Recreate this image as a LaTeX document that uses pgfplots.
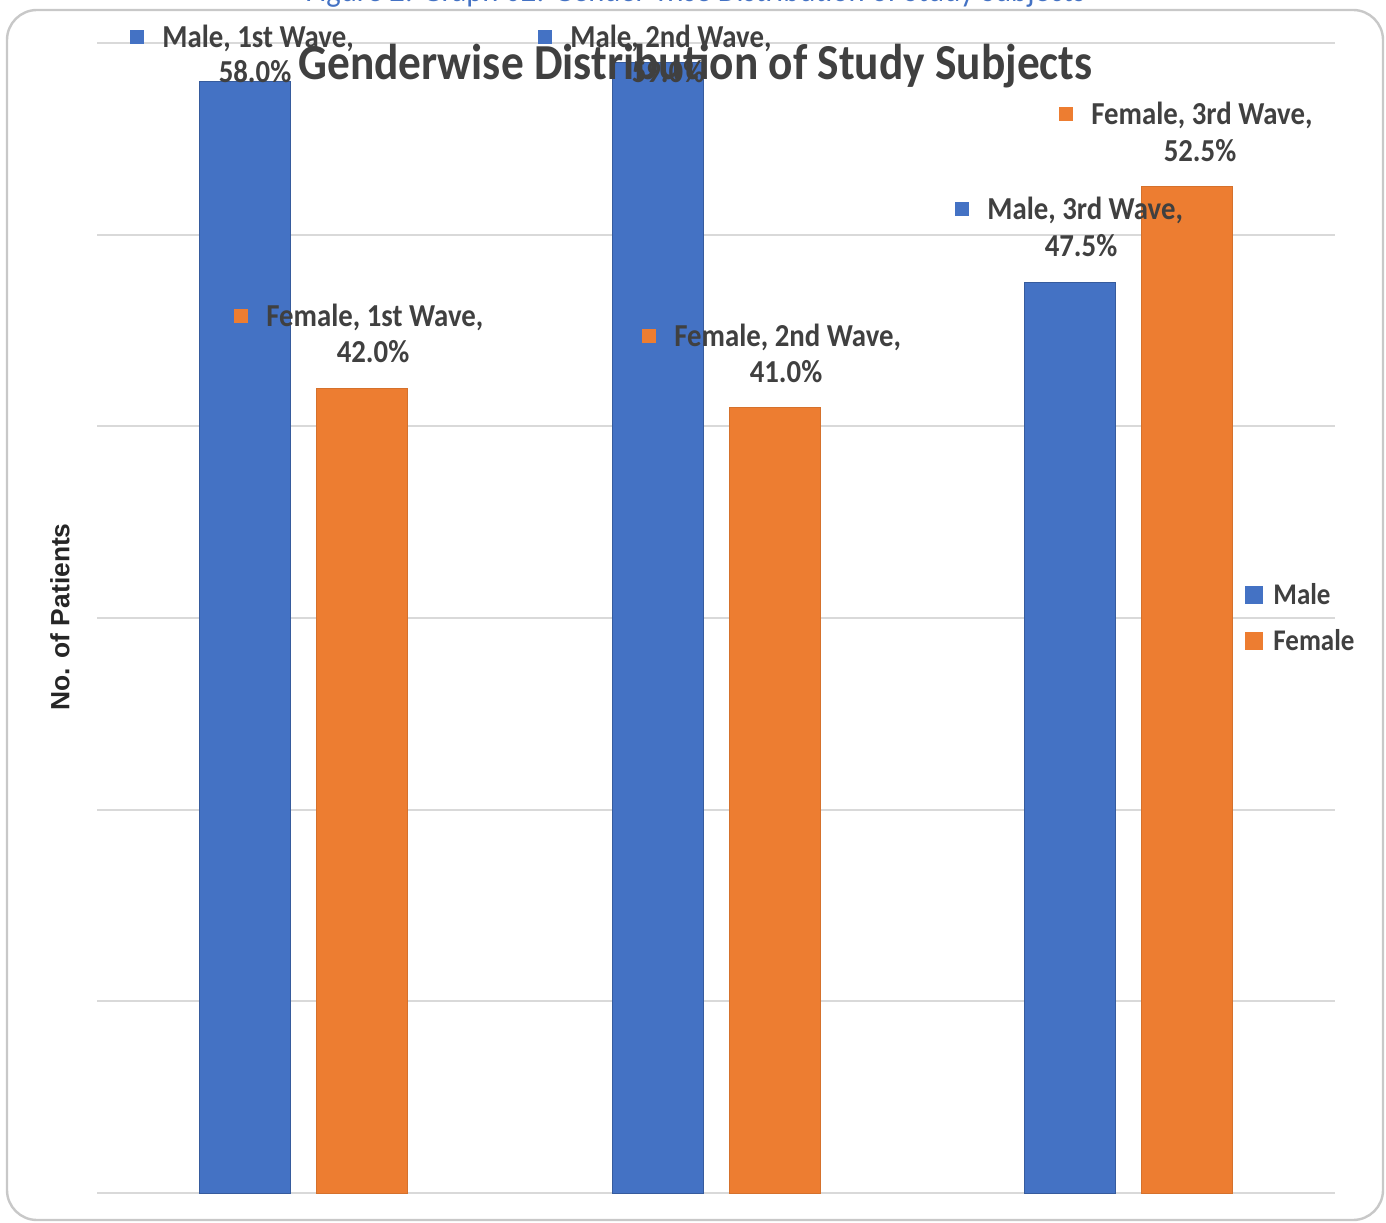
\documentclass[border=0pt]{standalone}
\usepackage{pgfplots}
\pgfplotsset{compat=1.18}
\usepackage{fontspec}
\setmainfont{Carlito}[FakeStretch=0.9]
\newfontfamily\arialf{Liberation Sans}
\definecolor{mblue}{RGB}{68,114,196}
\definecolor{morange}{RGB}{237,125,49}
\definecolor{lblgray}{RGB}{64,64,64}
\definecolor{gridgray}{RGB}{217,217,217}
\definecolor{framegray}{RGB}{200,200,200}
\definecolor{capblue}{RGB}{68,114,196}
\newcommand{\sq}[1]{\textcolor{#1}{\rule[2pt]{7pt}{7pt}}\hspace{9pt}}
\begin{document}
\begin{tikzpicture}
\useasboundingbox (0,0) rectangle (693pt,611pt);
\clip (0,0) rectangle (693pt,611pt);
\fill[white] (0,0) rectangle (693pt,611pt);
% caption cut at top
\node[anchor=base west, inner sep=0, text=capblue, font=\fontsize{17}{19}\selectfont] at (152.5pt,610pt) {Figure 2: Graph 02: Gender-wise Distribution of Study Subjects};
% frame
\draw[framegray, line width=1.2pt, rounded corners=15pt] (3.5pt,1pt) rectangle (691.5pt,606pt);
\begin{axis}[
  at={(48.5pt,14.5pt)}, anchor=south west,
  scale only axis, width=619pt, height=575pt,
  xmin=-0.5, xmax=2.5, ymin=0, ymax=60,
  ytick={0,10,...,60}, yticklabels={}, xtick=\empty,
  ymajorgrids, grid style={gridgray, line width=1pt},
  axis line style={draw=none}, major tick length=0pt,
  ybar, bar width=45.5pt,
  clip=false,
]
\addplot[fill=mblue, draw=mblue!80!black, line width=0.5pt, bar shift=-29.25pt] coordinates {(0,58.0) (1,59.0) (2,47.5)};
\addplot[fill=morange, draw=morange!90!black, line width=0.5pt, bar shift=29.25pt] coordinates {(0,42.0) (1,41.0) (2,52.5)};
\end{axis}
\begin{scope}[every node/.style={inner sep=0, text=lblgray, font=\bfseries\fontsize{16}{18}\selectfont}]
\node[anchor=base west] at (65pt,587pt) {\sq{mblue}Male, 1st Wave,};
\node[anchor=base] at (127.5pt,569.5pt) {58.0\%};
\node[anchor=base west] at (269pt,587pt) {\sq{mblue}Male, 2nd Wave,};
\node[anchor=base] at (334pt,569.5pt) {59.0\%};
\node[anchor=base west] at (117pt,447.5pt) {\sq{morange}Female, 1st Wave,};
\node[anchor=base] at (186.5pt,429.5pt) {42.0\%};
\node[anchor=base west] at (321pt,437.5pt) {\sq{morange}Female, 2nd Wave,};
\node[anchor=base] at (393pt,419.5pt) {41.0\%};
\node[anchor=base west] at (529.5pt,548.5pt) {\sq{morange}Female, 3rd Wave,};
\node[anchor=base] at (600pt,530pt) {52.5\%};
\node[anchor=base west] at (477.5pt,501pt) {\sq{mblue}Male, 3rd Wave,};
\node[anchor=base] at (540.5pt,482.5pt) {47.5\%};
% legend
\node[anchor=base west, font=\bfseries\fontsize{15}{17}\selectfont] at (622.5pt,308.5pt) {\textcolor{mblue}{\rule[0.5pt]{9pt}{9pt}}\hspace{5pt}Male};
\node[anchor=base west, font=\bfseries\fontsize{15}{17}\selectfont] at (622.5pt,285.5pt) {\textcolor{morange}{\rule[0.5pt]{9pt}{9pt}}\hspace{5pt}Female};
% title
\node[anchor=base west, font=\bfseries\fontsize{25.2}{28}\selectfont] at (149pt,571pt) {Genderwise Distribution of Study Subjects};
\end{scope}
\node[rotate=90, inner sep=0, text=black!85, font=\arialf\bfseries\fontsize{13.2}{15}\selectfont] at (30pt,302.5pt) {No. of Patients};
\end{tikzpicture}
\end{document}
